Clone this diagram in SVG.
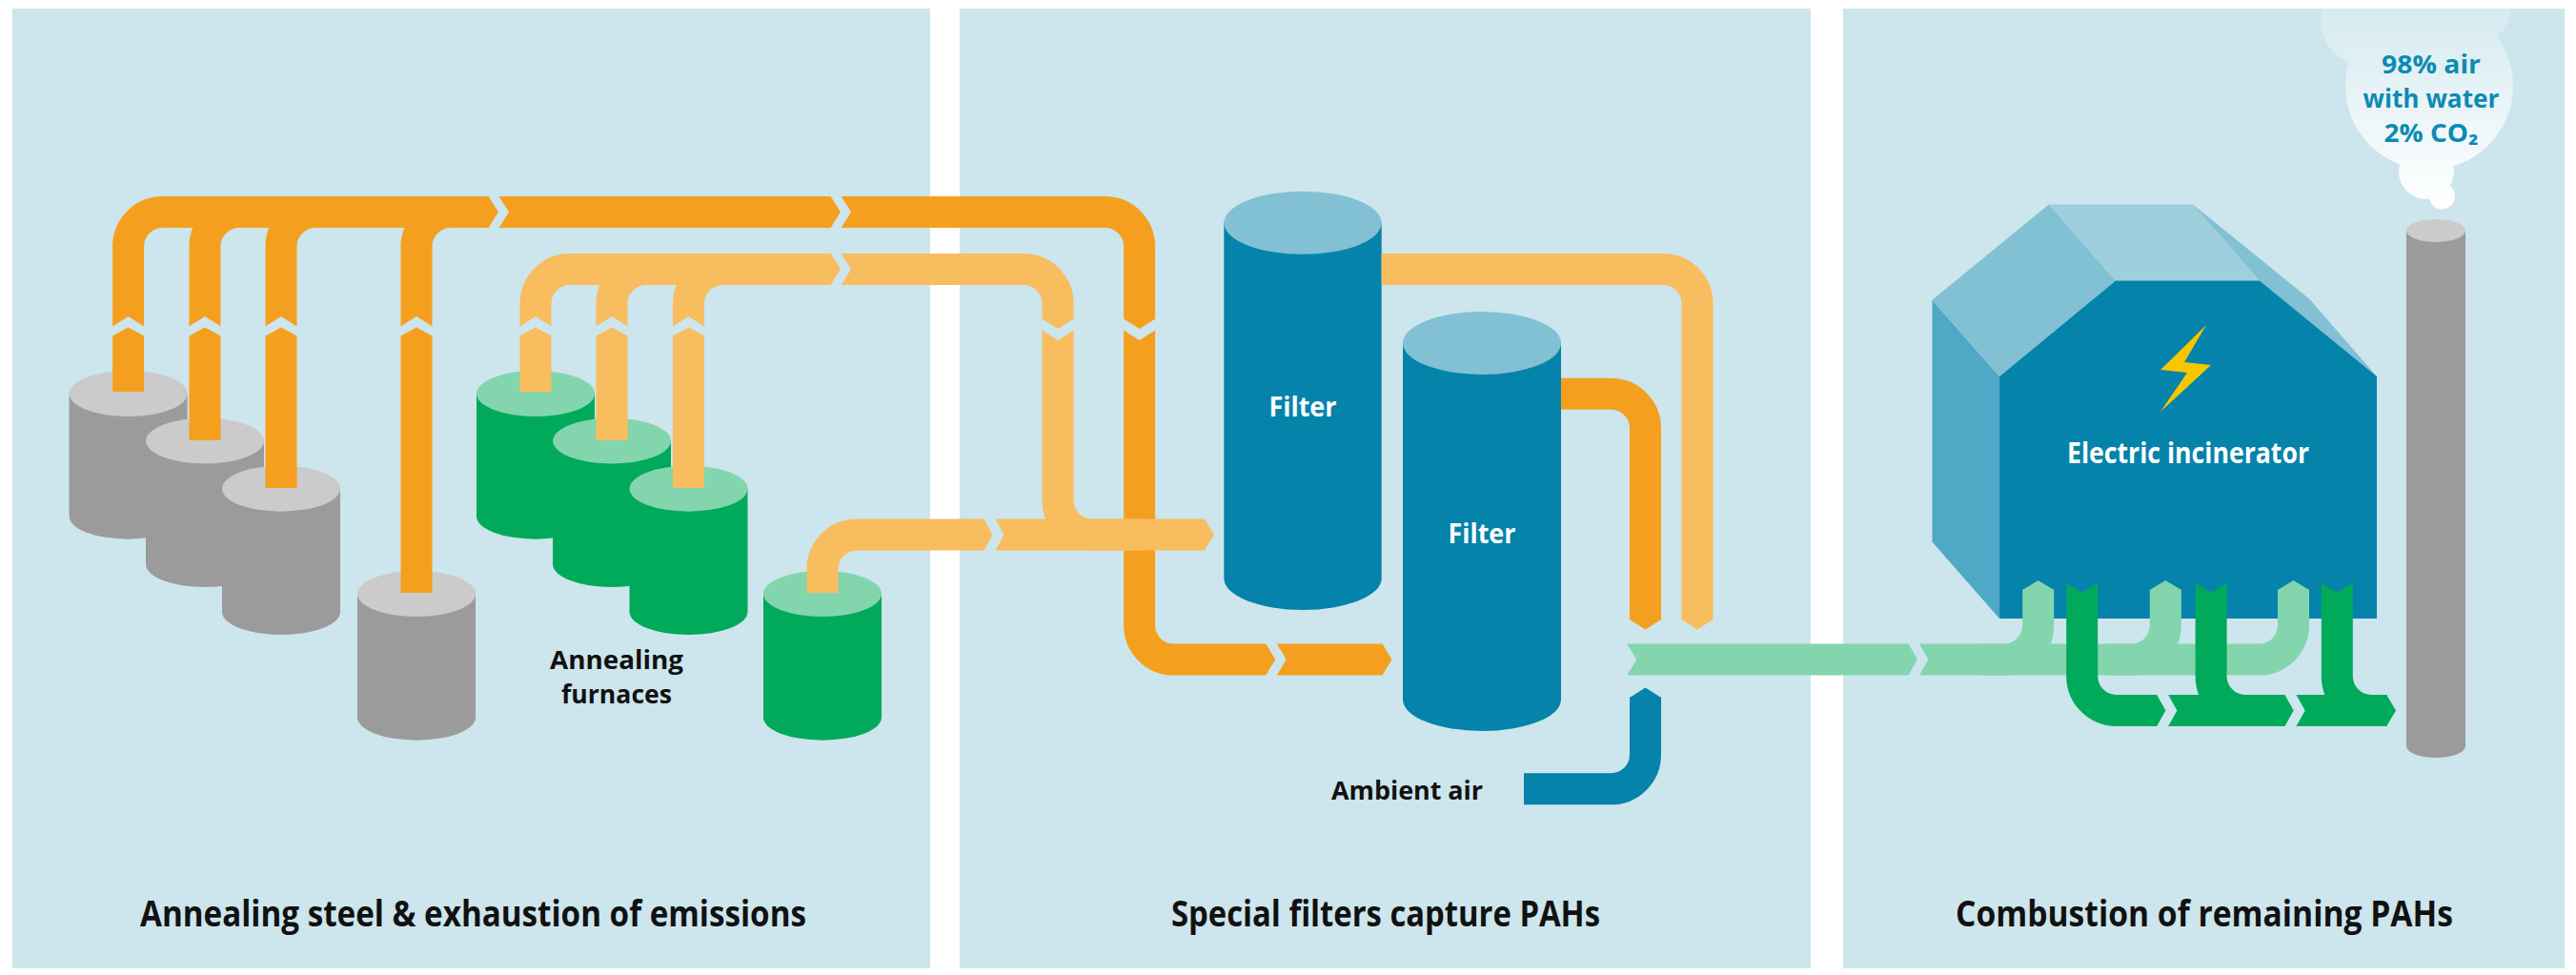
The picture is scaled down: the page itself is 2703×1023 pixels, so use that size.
<svg xmlns="http://www.w3.org/2000/svg" width="2703" height="1023" viewBox="0 0 2703 1023">
<defs>
<style>
.panel{fill:#cde5ec}
.cut{fill:#cde5ec}
.p{fill:none;stroke-width:33}
.do{stroke:#f4a01e}.fdo{fill:#f4a01e}
.lo{stroke:#f8bd5e}.flo{fill:#f8bd5e}
.lg{stroke:#83d5ad}.flg{fill:#83d5ad}
.dg{stroke:#00aa5a}.fdg{fill:#00aa5a}
.bl{stroke:#0583aa}.fbl{fill:#0583aa}
.gbody{fill:#9b9b9b}.gtop{fill:#cbcbcb}
.gnbody{fill:#00aa5a}.gntop{fill:#83d5ad}
.fbody{fill:#0583aa}.ftop{fill:#82c1d4}
.t{font-family:"Open Sans","Liberation Sans",sans-serif;font-weight:700}
.lbl{font-size:37px;fill:#111}
.sm{font-size:26px;fill:#111}
.wt{fill:#ffffff}
.cl{font-size:26px;fill:#0c8bb3}
</style>
<linearGradient id="cloudg" gradientUnits="userSpaceOnUse" x1="0" y1="0" x2="0" y2="215">
<stop offset="0" stop-color="#d3e9ef"/>
<stop offset="1" stop-color="#ffffff"/>
</linearGradient>
<clipPath id="p3clip"><rect x="1934" y="9" width="757" height="1007"/></clipPath>
</defs>

<rect x="0" y="0" width="2703" height="1023" fill="#ffffff"/>
<g id="panels">
<rect class="panel" x="13" y="9" width="963" height="1007"/>
<rect class="panel" x="1007" y="9" width="893" height="1007"/>
<rect class="panel" x="1934" y="9" width="757" height="1007"/>
</g>

<g id="gray-furnaces">
<path class="gbody" d="M72.6,413 V541.7 A62,24 0 0 0 196.6,541.7 V413 Z"/><ellipse class="gtop" cx="134.6" cy="413" rx="62" ry="24"/>
<path class="gbody" d="M153,462.6 V592 A62,24 0 0 0 277,592 V462.6 Z"/><ellipse class="gtop" cx="215" cy="462.6" rx="62" ry="24"/>
<path class="gbody" d="M233,512.7 V642 A62,24 0 0 0 357,642 V512.7 Z"/><ellipse class="gtop" cx="295" cy="512.7" rx="62" ry="24"/>
<path class="gbody" d="M375,623 V752.7 A62,24 0 0 0 499,752.7 V623 Z"/><ellipse class="gtop" cx="437" cy="623" rx="62" ry="24"/>
</g>
<g id="green-furnaces">
<path class="gnbody" d="M500,413 V541.7 A62,24 0 0 0 624,541.7 V413 Z"/><ellipse class="gntop" cx="562" cy="413" rx="62" ry="24"/>
<path class="gnbody" d="M580,462.6 V592 A62,24 0 0 0 704,592 V462.6 Z"/><ellipse class="gntop" cx="642" cy="462.6" rx="62" ry="24"/>
<path class="gnbody" d="M660.5,512.7 V642 A62,24 0 0 0 784.5,642 V512.7 Z"/><ellipse class="gntop" cx="722.5" cy="512.7" rx="62" ry="24"/>
<path class="gnbody" d="M801,623 V752.7 A62,24 0 0 0 925,752.7 V623 Z"/><ellipse class="gntop" cx="863" cy="623" rx="62" ry="24"/>
</g>

<g id="filter1">
<path class="fbody" d="M1284.3,233.8 V607 A82.7,33 0 0 0 1449.7,607 V233.8 Z"/>
<ellipse class="ftop" cx="1367" cy="233.8" rx="82.7" ry="33"/>
<text class="t wt" x="1367" y="437" font-size="29" text-anchor="middle" textLength="71" lengthAdjust="spacingAndGlyphs">Filter</text>
</g>
<g id="filter2">
<path class="fbody" d="M1472,360 V734 A83,33 0 0 0 1638,734 V360 Z"/>
<ellipse class="ftop" cx="1555" cy="360" rx="83" ry="33"/>
<text class="t wt" x="1555" y="570" font-size="29" text-anchor="middle" textLength="71" lengthAdjust="spacingAndGlyphs">Filter</text>
</g>

<g id="incinerator">
<polygon fill="#4fa8c5" points="2027.5,314.8 2098.1,394.9 2098.1,649 2027.5,568.5"/>
<polygon fill="#82c1d4" points="2027.5,314.8 2149.9,214.4 2220,294.5 2098.1,394.9"/>
<polygon fill="#9dcfdd" points="2149.9,214.4 2300.9,214.4 2371,294.5 2220,294.5"/>
<polygon fill="#82c1d4" points="2300.9,214.4 2423.3,313.8 2494,394.9 2371,294.5"/>
<polygon fill="#0583aa" points="2098.1,394.9 2220,294.5 2371,294.5 2494,394.9 2494,649 2098.1,649"/>
<polygon fill="#f7c600" points="2315,341 2292,380 2320,383 2267,432 2295,391 2267,388"/>
<text class="t wt" x="2296" y="486" font-size="30" text-anchor="middle" textLength="254" lengthAdjust="spacingAndGlyphs">Electric incinerator</text>
</g>

<g id="chimney">
<path class="gbody" d="M2525,242 V783 A31,12 0 0 0 2587,783 V242 Z"/>
<ellipse class="gtop" cx="2556" cy="242" rx="31" ry="12"/>
</g>

<g id="cloud" clip-path="url(#p3clip)">
<g fill="url(#cloudg)">
<circle cx="2485" cy="20" r="50"/>
<circle cx="2590" cy="5" r="45"/>
<circle cx="2549" cy="90" r="88"/>
<circle cx="2546" cy="180" r="29"/>
<circle cx="2562.5" cy="206" r="13.5"/>
</g>
<text class="t cl" x="2551" y="77" text-anchor="middle" textLength="104" lengthAdjust="spacingAndGlyphs">98% air</text>
<text class="t cl" x="2551" y="113" text-anchor="middle" textLength="143" lengthAdjust="spacingAndGlyphs">with water</text>
<text class="t cl" x="2551" y="149" text-anchor="middle" textLength="99" lengthAdjust="spacingAndGlyphs">2% CO₂</text>
</g>

<g id="connectors">
<!-- dark orange exhaust from grey furnaces -->
<path class="p do" d="M134.6,411 V258.5 A36,36 0 0 1 170.6,222.5 H1159.6 A36,36 0 0 1 1195.6,258.5 V656.1 A36,36 0 0 0 1231.6,692.1 H1451"/>
<polygon class="fdo" points="1450.5,675.6 1460.5,692.1 1450.5,708.6"/>
<path class="p do" d="M215,462 V258.5 A36,36 0 0 1 251,222.5 H290"/>
<path class="p do" d="M295,512 V258.5 A36,36 0 0 1 331,222.5 H370"/>
<path class="p do" d="M437,622 V258.5 A36,36 0 0 1 473,222.5 H510"/>
<!-- light orange exhaust from green furnaces -->
<path class="p lo" d="M562,411 V318.5 A36,36 0 0 1 598,282.5 H1074.1 A36,36 0 0 1 1110.1,318.5 V525 A36,36 0 0 0 1146.1,561 H1200"/>
<path class="p lo" d="M642,462 V318.5 A36,36 0 0 1 678,282.5 H720"/>
<path class="p lo" d="M722.5,512 V318.5 A36,36 0 0 1 758.5,282.5 H800"/>
<path class="p lo" d="M863,622 V597 A36,36 0 0 1 899,561 H1264.5"/>
<polygon class="flo" points="1264,544.5 1274,561 1264,577.5"/>
<!-- filter outputs -->
<path class="p lo" d="M1449.7,282.5 H1745 A36,36 0 0 1 1781,318.5 V650.5"/>
<polygon class="flo" points="1764.5,650 1781,660.4 1797.5,650"/>
<path class="p do" d="M1638,413.3 H1690.5 A36,36 0 0 1 1726.5,449.3 V650.5"/>
<polygon class="fdo" points="1710,650 1726.5,660.4 1743,650"/>
<!-- ambient air -->
<path class="p bl" d="M1726.5,731.5 V791.8 A36,36 0 0 1 1690.5,827.8 H1599"/>
<polygon class="fbl" points="1710,732 1726.5,721.5 1743,732"/>
<!-- light green into incinerator -->
<path class="p lg" d="M1717.5,692.1 H2370.5 A36,36 0 0 0 2406.5,656.1 V618.5"/>
<polygon class="flg" points="1707,675.6 1717.5,692.1 1707,708.6 1718.5,708.6 1718.5,675.6"/>
<polygon class="flg" points="2390,619 2406.5,609 2423,619"/>
<path class="p lg" d="M2080,692.1 H2102.7 A36,36 0 0 0 2138.7,656.1 V618.5"/>
<polygon class="flg" points="2122.2,619 2138.7,609 2155.2,619"/>
<path class="p lg" d="M2210,692.1 H2236.3 A36,36 0 0 0 2272.3,656.1 V618.5"/>
<polygon class="flg" points="2255.8,619 2272.3,609 2288.8,619"/>
<!-- dark green out of incinerator -->
<path class="p dg" d="M2184.7,621.2 V709.5 A36,36 0 0 0 2220.7,745.5 H2504.5"/>
<polygon class="fdg" points="2504,728.7 2514,745.5 2504,762.3"/>
<path class="p dg" d="M2320.1,621.2 V709.5 A36,36 0 0 0 2356.1,745.5 H2380"/>
<path class="p dg" d="M2452.3,621.2 V709.5 A36,36 0 0 0 2488.3,745.5 H2500"/>
<polygon class="fdg" points="2168.2,611.7 2184.7,621.7 2201.2,611.7 2201.2,622.7 2168.2,622.7"/>
<polygon class="fdg" points="2303.6,611.7 2320.1,621.7 2336.6,611.7 2336.6,622.7 2303.6,622.7"/>
<polygon class="fdg" points="2435.8,611.7 2452.3,621.7 2468.8,611.7 2468.8,622.7 2435.8,622.7"/>
<!-- chevron breaks -->
<g class="cut">
<polygon points="512,205 523,205 534,222.5 523,240 512,240 523,222.5"/>
<polygon points="871,205 882,205 893,222.5 882,240 871,240 882,222.5"/>
<polygon points="871,265 882,265 893,282.5 882,300 871,300 882,282.5"/>
<polygon points="1032,543.5 1044,543.5 1053.5,561 1044,578.5 1032,578.5 1041.5,561"/>
<polygon points="1327.7,674.6 1339.2,674.6 1349.7,692.1 1339.2,709.6 1327.7,709.6 1338.2,692.1"/>
<polygon points="2002,674.6 2013.4,674.6 2023.4,692.1 2013.4,709.6 2002,709.6 2012,692.1"/>
<polygon points="2262.4,727.7 2274.4,727.7 2284.4,745.5 2274.4,763.3 2262.4,763.3 2272.4,745.5"/>
<polygon points="2396.7,727.7 2408.7,727.7 2418.7,745.5 2408.7,763.3 2396.7,763.3 2406.7,745.5"/>
<polygon points="117.1,343 134.6,332 152.1,343 152.1,353 134.6,343.5 117.1,353"/>
<polygon points="197.5,343 215,332 232.5,343 232.5,353 215,343.5 197.5,353"/>
<polygon points="277.5,343 295,332 312.5,343 312.5,353 295,343.5 277.5,353"/>
<polygon points="419.5,343 437,332 454.5,343 454.5,353 437,343.5 419.5,353"/>
<polygon points="544.5,343 562,332 579.5,343 579.5,353 562,343.5 544.5,353"/>
<polygon points="624.5,343 642,332 659.5,343 659.5,353 642,343.5 624.5,353"/>
<polygon points="705,343 722.5,332 740,343 740,353 722.5,343.5 705,353"/>
<polygon points="1092.6,334 1110.1,345 1127.6,334 1127.6,346 1110.1,357 1092.6,346"/>
<polygon points="1178.1,334 1195.6,345 1213.1,334 1213.1,346 1195.6,357 1178.1,346"/>
</g>
</g>

<g id="labels">
<text class="t sm" x="647" y="701.7" text-anchor="middle" textLength="140" lengthAdjust="spacingAndGlyphs">Annealing</text>
<text class="t sm" x="647" y="737.7" text-anchor="middle" textLength="116" lengthAdjust="spacingAndGlyphs">furnaces</text>
<text class="t sm" x="1397" y="838.5" textLength="159" lengthAdjust="spacingAndGlyphs">Ambient air</text>
<text class="t lbl" x="496.5" y="971.7" text-anchor="middle" textLength="699" lengthAdjust="spacingAndGlyphs">Annealing steel &amp; exhaustion of emissions</text>
<text class="t lbl" x="1454" y="971.7" text-anchor="middle" textLength="450" lengthAdjust="spacingAndGlyphs">Special filters capture PAHs</text>
<text class="t lbl" x="2313" y="971.7" text-anchor="middle" textLength="522" lengthAdjust="spacingAndGlyphs">Combustion of remaining PAHs</text>
</g>
</svg>
